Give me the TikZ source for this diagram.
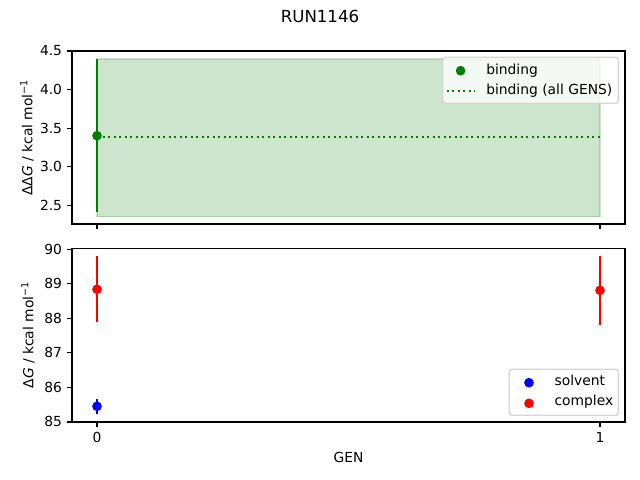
\documentclass[tikz,border=0pt]{standalone}
\usepackage{fontspec}
\setmainfont{DejaVu Sans}
\definecolor{mplgreen}{HTML}{008000}
\definecolor{mplred}{HTML}{FF0000}
\definecolor{mplblue}{HTML}{0000FF}
\definecolor{legedge}{HTML}{D6D6D6}
\tikzset{
  frame/.style={line width=0.8pt},
  tick/.style={line width=0.8pt},
  dot/.style={circle,inner sep=0pt,minimum size=7pt},
  bar/.style={line width=1.5pt},
  legbox/.style={draw=legedge,fill=white,fill opacity=0.8,rounded corners=2pt,line width=1pt},
  lab/.style={font=\fontsize{10}{12}\selectfont,inner sep=0pt}
}
\begin{document}
\begin{tikzpicture}[x=0.01in,y=-0.01in]
  \useasboundingbox[fill=white] (0,0) rectangle (640,480);
  \node [font=\fontsize{12}{14}\selectfont,inner sep=0pt,anchor=base] (title) at (320,22.3) {RUN1146};
  % upper panel: binding
  \filldraw [fill=mplgreen,draw=mplgreen,opacity=0.2,line width=1pt] (97,59) rectangle (600,216.7);
  \draw [mplgreen,line width=1.5pt,dash pattern=on 1.5pt off 2.475pt] (97,137) -- (600,137);
  \draw [bar,mplgreen] (97,59) -- (97,211.7);
  \node [dot,fill=mplgreen] (bind0) at (97,135.7) {};
  \draw [frame] (72,51) rectangle (625,224);
  \foreach \v in {2.5,3.0,3.5,4.0,4.5} {
    \draw [tick] (72,{51+(4.5-\v)*77.15}) -- ++(-3.5pt,0);
    \node [lab,anchor=east] (ty\v) at (62.3,{51+(4.5-\v)*77.15}) {\v};
  }
  \foreach \x in {97,600} \draw [tick] (\x,224) -- ++(0,-3.5pt);
  \node [lab,rotate=90,anchor=base] (ylabtop) at (32.3,137.5) {ΔΔ\textit{G} / kcal mol\textsuperscript{−1}};
  \draw [legbox] (442.7,57.3) rectangle (618.3,103.3);
  \node [dot,fill=mplgreen] (legbind) at (460.6,70.7) {};
  \draw [mplgreen,line width=1.5pt,dash pattern=on 1.5pt off 2.475pt] (446.7,90.7) -- (474.5,90.7);
  \node [lab,anchor=base west] (txtbind) at (486,74.5) {binding};
  \node [lab,anchor=base west] (txtall) at (486,95) {binding (all GENS)};
  % lower panel: solvent / complex
  \draw [bar,mplred] (97,255.7) -- (97,322.3);
  \node [dot,fill=mplred] (cplx0) at (97,289.3) {};
  \draw [bar,mplred] (600,255.7) -- (600,324.7);
  \node [dot,fill=mplred] (cplx1) at (600,290.3) {};
  \draw [bar,mplblue] (97,399.3) -- (97,413.7);
  \node [dot,fill=mplblue] (solv0) at (97,406.3) {};
  \draw [frame] (72,248.3) rectangle (625,422);
  \foreach \v in {85,86,87,88,89,90} {
    \draw [tick] (72,{249.3+(90-\v)*34.53}) -- ++(-3.5pt,0);
    \node [lab,anchor=east] (by\v) at (62.3,{249.3+(90-\v)*34.53}) {\v};
  }
  \draw [tick] (97,422) -- ++(0,-3.5pt);
  \draw [tick] (600,422) -- ++(0,-3.5pt);
  \node [lab,anchor=north] (tx0) at (97,432) {0};
  \node [lab,anchor=north] (tx1) at (600,432) {1};
  \node [lab,anchor=base] (xlab) at (348.5,462.7) {GEN};
  \node [lab,rotate=90,anchor=base] (ylabbot) at (33.3,335) {Δ\textit{G} / kcal mol\textsuperscript{−1}};
  \draw [legbox] (509.3,369.3) rectangle (618.3,415.3);
  \node [dot,fill=mplblue] (legsolv) at (529,382.7) {};
  \node [dot,fill=mplred] (legcplx) at (529,403.3) {};
  \node [lab,anchor=base west] (txtsolv) at (554.3,385.7) {solvent};
  \node [lab,anchor=base west] (txtcplx) at (554.3,405.7) {complex};
\end{tikzpicture}
\end{document}
